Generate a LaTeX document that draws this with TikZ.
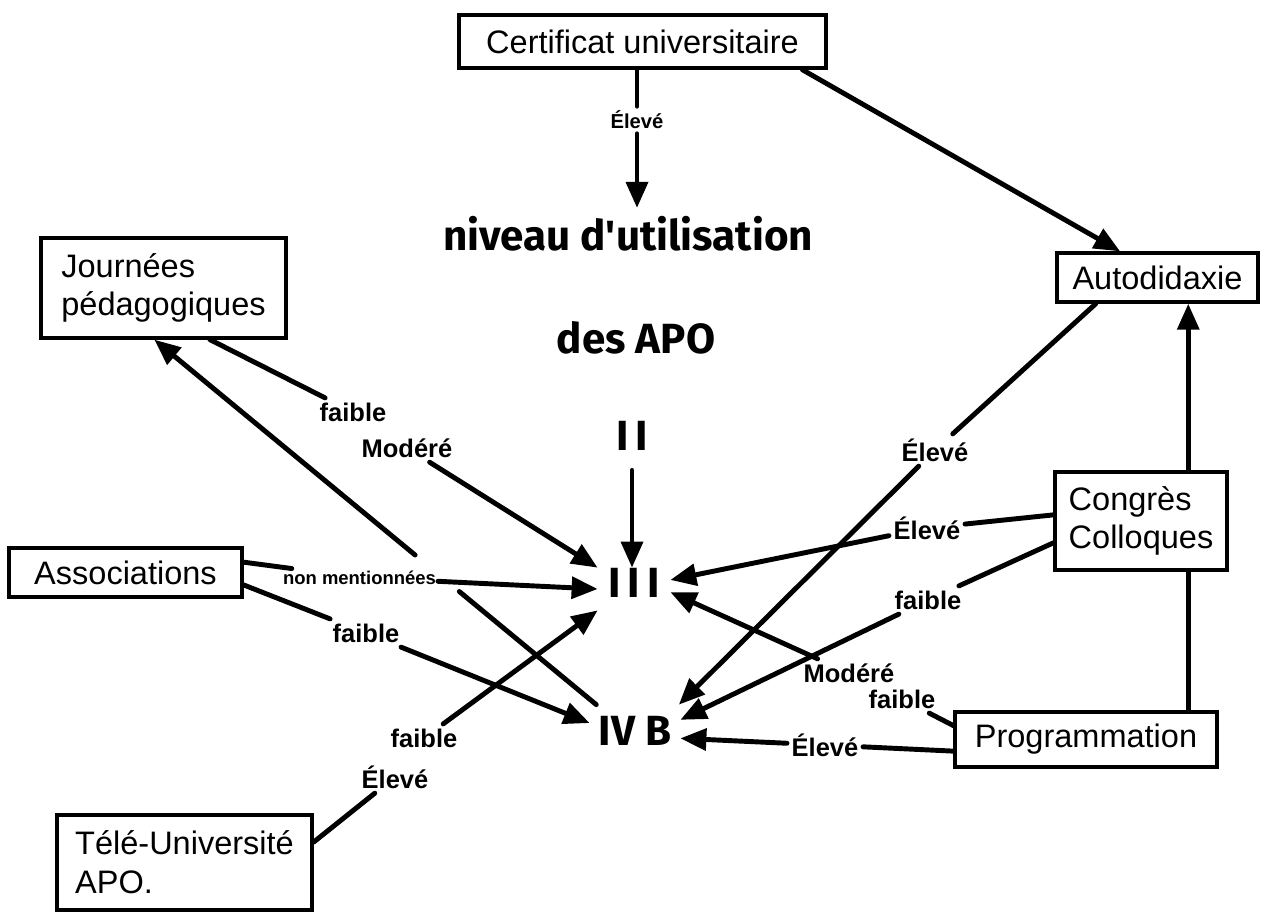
\documentclass[tikz,border=0pt]{standalone}
\usepackage{fontspec}
\setmainfont{Liberation Sans}
\newfontfamily\lvlfont{Fira Sans}
\usetikzlibrary{arrows.meta}

\begin{document}
\begin{tikzpicture}[x=0.2mm,y=-0.2mm,
    box/.style={draw,line width=1.9pt,inner sep=0pt,align=left,font=\fontsize{18.5}{22}\selectfont},
    lbl/.style={inner sep=2.5pt,font=\bfseries\fontsize{14.5}{16}\selectfont},
    lvl/.style={font=\lvlfont\bfseries\fontsize{24}{28}\selectfont},
    ln/.style={line width=2.8pt,line cap=round},
    arr/.style={ln,-{Triangle[length=5.2mm,width=4.3mm]}}]
  \useasboundingbox[fill=white] (0,0) rectangle (1266,920);
  \node[box,minimum width=73.4mm,minimum height=10.6mm] (cert) at (642.5,41.5) {Certificat universitaire};
  \node[box,minimum width=49mm,minimum height=20mm] (jour) at (163.5,288) {Journées\\pédagogiques};
  \node[box,minimum width=46.6mm,minimum height=9.8mm] (assoc) at (125.5,572.5) {Associations};
  \node[box,minimum width=51mm,minimum height=19mm] (tele) at (184.5,862.5) {Télé-Université\\APO.};
  \node[box,minimum width=40.2mm,minimum height=9.8mm] (auto) at (1157.5,277.5) {Autodidaxie};
  \node[box,minimum width=34.4mm,minimum height=19.6mm] (congres) at (1141,521) {Congrès\\Colloques};
  \node[box,minimum width=52.4mm,minimum height=11mm] (prog) at (1086,739.5) {Programmation};

  \node[lvl,anchor=base,inner sep=1.5mm] (niv) at (628,250) {niveau d'utilisation};
  \node[lvl,anchor=base] (apo) at (636,353) {des APO};
  \node[lvl,anchor=base,inner sep=4mm] (ii) at (632,450) {I\kern4pt I};
  \node[lvl,anchor=base,inner sep=0pt,text height=5.8mm,text depth=2.6mm,minimum width=14.4mm] (iii) at (634,597) {I\kern4pt I\kern4pt I};
  \node[lvl,anchor=base,inner sep=0pt,text height=8mm,text depth=0.8mm,minimum width=18mm] (ivb) at (635,745) {IV B};

  \node[lbl,font=\bfseries\fontsize{11.5}{13}\selectfont] (e1) at (637,120) {Élevé};
  \node[lbl] (f1) at (353,412) {faible};
  \node[lbl] (m1) at (407,448) {Modéré};
  \node[lbl,font=\bfseries\fontsize{10.5}{12}\selectfont,inner sep=1pt] (nm) at (359.5,577.5) {non mentionnées};
  \node[lbl] (f2) at (366,633) {faible};
  \node[lbl] (f3) at (424,738) {faible};
  \node[lbl] (e3) at (395,777) {Élevé};
  \node[lbl] (e4) at (935,450) {Élevé};
  \node[lbl] (e5) at (927,528) {Élevé};
  \node[lbl] (f5) at (928,600) {faible};
  \node[lbl] (m6) at (849,673) {Modéré};
  \node[lbl] (f6) at (902,699) {faible};
  \node[lbl] (e6) at (825,745) {Élevé};

  \draw[ln] (cert.south -| e1) -- (e1);
  \draw[arr] (e1) -- (e1 |- niv.north);
  \draw[arr] (cert.-10) -- (auto.145);
  \draw[arr] (ii) -- (ii |- iii.north);
  \draw[ln] (jour.-48) -- (f1);
  \draw[arr] (m1) -- (iii.north west);
  \draw[ln] (assoc.5) -- (nm);
  \draw[arr] (nm) -- (iii.west);
  \draw[ln] (assoc.-6) -- (f2);
  \draw[arr] (f2) -- (ivb.175);
  \draw[ln] (tele.9) -- (e3);
  \draw[arr] (f3) -- (iii.south west);
  \path (ivb.150) -- (jour.-100) coordinate[pos=.31] (g1) coordinate[pos=.41] (g2);
  \draw[ln] (ivb.150) -- (g1);
  \draw[arr] (g2) -- (jour.-100);
  \draw[ln] (auto.-157) -- (e4);
  \draw[arr] (e4) -- (ivb.27);
  \draw[ln] (congres.176) -- (e5);
  \draw[arr] (e5) -- (iii.14);
  \draw[ln] (congres.194) -- (f5);
  \draw[arr] (f5) -- (ivb.9);
  \draw[ln] (prog.174) -- (f6);
  \draw[arr] (m6) -- (iii.-5);
  \draw[ln] (prog.185) -- (e6);
  \draw[arr] (e6) -- (ivb.-14);
  \draw[ln] (prog.north -| congres.47) -- (congres.-47);
  \draw[arr] (congres.47) -- (congres.47 |- auto.south);
\end{tikzpicture}
\end{document}
